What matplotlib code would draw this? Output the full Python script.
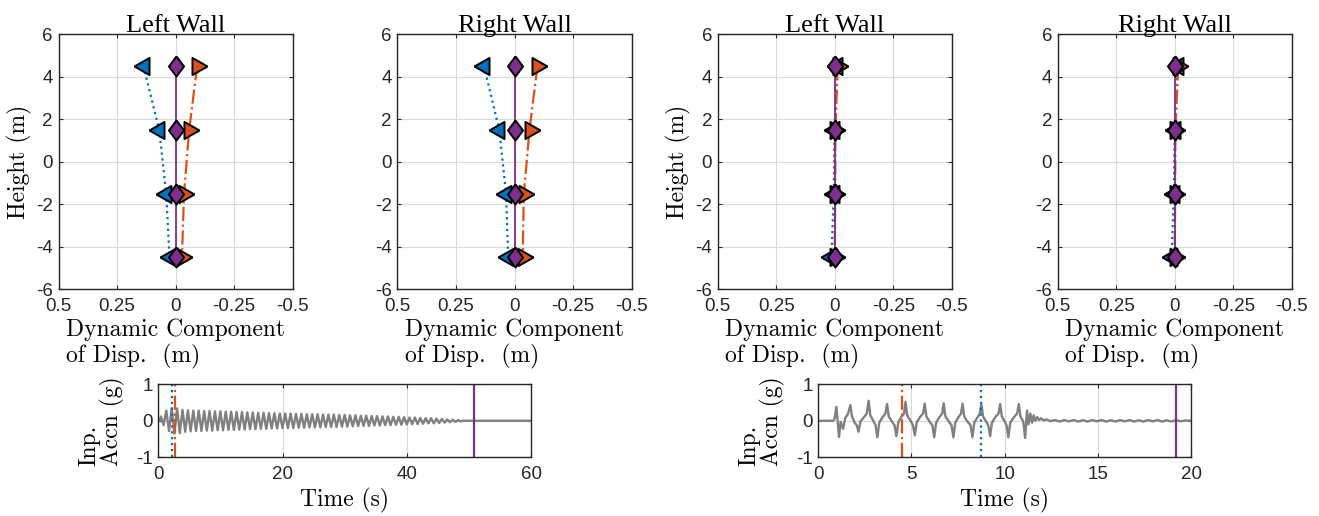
import numpy as np
import matplotlib
matplotlib.use("Agg")
import matplotlib.pyplot as plt

plt.rcParams["axes.unicode_minus"] = False

BLUE = "#0072BD"
ORANGE = "#D95319"
PURPLE = "#7E2F8E"
GRAY = "#808080"
AXCOL = "#262626"

heights = [4.5, 1.5, -1.5, -4.5]

# dynamic displacement profiles (m): blue = min, orange = max, purple = end of record
disp_left_a = {"blue": [0.137, 0.07, 0.04, 0.026],
               "orange": [-0.092, -0.058, -0.036, -0.027],
               "purple": [0.0, 0.0, 0.0, 0.0]}
disp_right_a = {"blue": [0.13, 0.065, 0.036, 0.027],
                "orange": [-0.098, -0.064, -0.04, -0.035],
                "purple": [0.0, 0.0, 0.0, 0.0]}
disp_left_b = {"blue": [-0.01, 0.001, 0.004, 0.014],
               "orange": [-0.013, -0.003, -0.002, 0.0],
               "purple": [0.0, 0.0, 0.0, 0.0]}
disp_right_b = {"blue": [-0.012, 0.0, 0.004, 0.013],
                "orange": [-0.015, -0.003, -0.002, 0.0],
                "purple": [0.0, 0.0, 0.0, 0.0]}

# record A: harmonic input, amplitude of each cycle (g)
acc_a_period = 0.87
acc_a_start = 0.2
acc_a_amp = [0.12, 0.28, 0.35, 0.34, 0.30, 0.29, 0.28, 0.28, 0.27, 0.27,
             0.26, 0.26, 0.25, 0.25, 0.24, 0.24, 0.23, 0.23, 0.22, 0.22,
             0.21, 0.21, 0.20, 0.20, 0.20, 0.19, 0.19, 0.18, 0.18, 0.18,
             0.17, 0.17, 0.17, 0.16, 0.16, 0.15, 0.15, 0.14, 0.14, 0.13,
             0.13, 0.12, 0.12, 0.11, 0.11, 0.10, 0.09, 0.09, 0.08, 0.07,
             0.07, 0.06, 0.05, 0.04, 0.03, 0.02]
acc_a_end = 60.0
marks_a = {"blue": 2.25, "orange": 2.74, "purple": 50.9}

# record B: pulse-type input (s, g)
acc_b_t = [0.0, 0.8, 0.87, 0.97, 1.03, 1.11, 1.2, 1.33, 1.45, 1.6,
           1.72, 1.81, 1.95, 2.06, 2.16, 2.26, 2.45, 2.6,
           2.7, 2.79, 2.95, 3.07, 3.17, 3.27, 3.45, 3.6,
           3.69, 3.78, 3.95, 4.09, 4.19, 4.29, 4.45, 4.6,
           4.68, 4.77, 4.95, 5.08, 5.18, 5.28, 5.45, 5.62,
           5.71, 5.8, 5.97, 6.12, 6.22, 6.32, 6.5, 6.65,
           6.73, 6.82, 7.0, 7.15, 7.25, 7.35, 7.52, 7.66,
           7.74, 7.83, 8.0, 8.17, 8.27, 8.37, 8.55, 8.67,
           8.75, 8.84, 9.0, 9.12, 9.22, 9.32, 9.5, 9.67,
           9.76, 9.85, 10.0, 10.1, 10.2, 10.3, 10.5, 10.67,
           10.76, 10.85, 11.0, 11.1, 11.2, 11.28, 11.38, 11.47,
           11.56, 11.65, 11.75, 11.85, 11.95, 12.1, 12.25, 12.45,
           12.7, 12.95, 13.2, 13.45, 13.7, 13.95, 14.2, 14.45,
           14.7, 14.95, 15.2, 15.45, 15.7, 15.95, 16.2, 16.45,
           16.7, 16.95, 17.2, 17.45, 17.7, 17.95, 18.2, 18.45,
           18.7, 18.95, 19.2, 19.45, 19.7, 20.0]
acc_b_a = [0.0, 0.0, 0.05, 0.38, 0.05, -0.44, -0.03, -0.22, 0.08, 0.2,
           0.43, 0.12, -0.05, -0.12, -0.30, -0.02, 0.1, 0.2,
           0.55, 0.15, 0.0, -0.12, -0.45, -0.05, 0.1, 0.2,
           0.46, 0.12, -0.02, -0.12, -0.42, -0.05, 0.1, 0.2,
           0.52, 0.15, 0.0, -0.12, -0.40, -0.05, 0.1, 0.2,
           0.47, 0.12, -0.02, -0.12, -0.45, -0.05, 0.1, 0.2,
           0.48, 0.12, -0.02, -0.12, -0.45, -0.05, 0.1, 0.2,
           0.47, 0.12, -0.02, -0.12, -0.45, -0.05, 0.1, 0.2,
           0.46, 0.12, -0.02, -0.12, -0.42, -0.05, 0.1, 0.2,
           0.46, 0.12, -0.02, -0.12, -0.45, -0.05, 0.1, 0.2,
           0.46, 0.12, -0.02, -0.47, 0.28, -0.1, 0.2, -0.05,
           0.15, 0.0, 0.1, 0.02, 0.07, 0.01, 0.04, -0.01,
           0.02, -0.02, 0.02, -0.015, 0.02, -0.02, 0.015, -0.02,
           0.02, -0.015, 0.02, -0.02, 0.015, -0.02, 0.02, -0.015,
           0.02, -0.02, 0.015, -0.02, 0.02, -0.015, 0.02, -0.02,
           0.015, -0.02, 0.02, -0.015, 0.01, 0.0]
marks_b = {"blue": 8.71, "orange": 4.47, "purple": 19.18}

x_ticks = [0.5, 0.25, 0, -0.25, -0.5]
x_ticklabels = ["0.5", "0.25", "0", "-0.25", "-0.5"]
y_ticks = [6, 4, 2, 0, -2, -4, -6]

# triangle markers centred on their centroid, tall diamond
TRI_L = [(-1.0, 0.0), (0.5, 0.85), (0.5, -0.85), (-1.0, 0.0)]
TRI_R = [(1.0, 0.0), (-0.5, 0.85), (-0.5, -0.85), (1.0, 0.0)]
DIAM = [(0.0, 1.0), (0.75, 0.0), (0.0, -1.0), (-0.75, 0.0), (0.0, 1.0)]

W, H = 1319, 516


def px_axes(fig, x0, x1, y0, y1):
    return fig.add_axes([x0 / W, 1 - y1 / H, (x1 - x0) / W, (y1 - y0) / H])


def style_axes(ax):
    for s in ax.spines.values():
        s.set_color(AXCOL)
        s.set_linewidth(1.0)
    ax.tick_params(direction="in", length=3, width=0.8, colors=AXCOL,
                   top=True, right=True, labelsize=13.5)
    ax.tick_params(axis="x", pad=6)
    ax.tick_params(axis="y", pad=4)
    for lab in ax.get_xticklabels() + ax.get_yticklabels():
        lab.set_fontfamily("Liberation Sans")
    ax.grid(True, color="#dadada", linewidth=0.8)
    ax.set_axisbelow(True)


def profile(ax, title, d, ylabel):
    ax.plot(d["blue"], heights, linestyle=":", color=BLUE, linewidth=1.6,
            marker=TRI_L, markersize=14.5, markerfacecolor=BLUE,
            markeredgecolor="black", markeredgewidth=1.4)
    ax.plot(d["orange"], heights, linestyle="-.", color=ORANGE, linewidth=1.6,
            marker=TRI_R, markersize=14.5, markerfacecolor=ORANGE,
            markeredgecolor="black", markeredgewidth=1.4)
    ax.plot(d["purple"], heights, linestyle="-", color=PURPLE, linewidth=1.3,
            marker=DIAM, markersize=14.5, markerfacecolor=PURPLE,
            markeredgecolor="black", markeredgewidth=1.4)
    ax.set_xlim(0.5, -0.5)
    ax.set_ylim(-6, 6)
    ax.set_xticks(x_ticks)
    ax.set_xticklabels(x_ticklabels)
    ax.set_yticks(y_ticks)
    ax.set_yticklabels([str(v) for v in y_ticks])
    style_axes(ax)
    ax.set_title(title, fontfamily="Liberation Serif", fontsize=19, pad=2)
    ax.set_xlabel("Dynamic Component\nof Disp.  (m)", fontfamily="cmr10",
                  fontsize=17, multialignment="left", labelpad=3,
                  linespacing=1.15)
    if ylabel:
        ax.set_ylabel("Height (m)", fontfamily="cmr10", fontsize=17,
                      labelpad=3)


def signal(ax, t, a, marks, xmax, xticks):
    ax.plot(t, a, color=GRAY, linewidth=1.7)
    ax.axvline(marks["blue"], color=BLUE, linestyle=":", linewidth=1.6)
    ax.axvline(marks["orange"], color=ORANGE, linestyle="-.", linewidth=1.6)
    ax.axvline(marks["purple"], color=PURPLE, linestyle="-", linewidth=1.6)
    ax.set_xlim(0, xmax)
    ax.set_ylim(-1, 1)
    ax.set_xticks(xticks)
    ax.set_yticks([-1, 0, 1])
    style_axes(ax)
    ax.set_xlabel("Time (s)", fontfamily="cmr10", fontsize=17, labelpad=4)
    ax.set_ylabel("Inp.\nAccn (g)", fontfamily="cmr10", fontsize=17,
                  multialignment="left", labelpad=8, linespacing=0.95)


# zig-zag through the crest and trough of every cycle of record A
acc_a_t = [0.0, acc_a_start]
acc_a_v = [0.0, 0.0]
for k, amp in enumerate(acc_a_amp):
    c0 = acc_a_start + k * acc_a_period
    acc_a_t += [c0 + 0.25 * acc_a_period, c0 + 0.75 * acc_a_period]
    acc_a_v += [amp, -amp]
last = acc_a_start + len(acc_a_amp) * acc_a_period
acc_a_t += [last, acc_a_end]
acc_a_v += [0.0, 0.0]

fig = plt.figure(figsize=(W / 100, H / 100), dpi=100)

profile(px_axes(fig, 58.5, 292.7, 34.3, 289.3), "Left Wall", disp_left_a, True)
profile(px_axes(fig, 397.3, 631.7, 34.3, 289.3), "Right Wall", disp_right_a, False)
profile(px_axes(fig, 717.6, 951.8, 34.3, 289.3), "Left Wall", disp_left_b, True)
profile(px_axes(fig, 1057.6, 1291.8, 34.3, 289.3), "Right Wall", disp_right_b, False)

signal(px_axes(fig, 158.3, 531.0, 384.3, 457.3), acc_a_t, acc_a_v, marks_a,
       60, [0, 20, 40, 60])
signal(px_axes(fig, 818.3, 1191.0, 384.3, 457.3), acc_b_t, acc_b_a, marks_b,
       20, [0, 5, 10, 15, 20])

fig.savefig("out.png", dpi=100)
